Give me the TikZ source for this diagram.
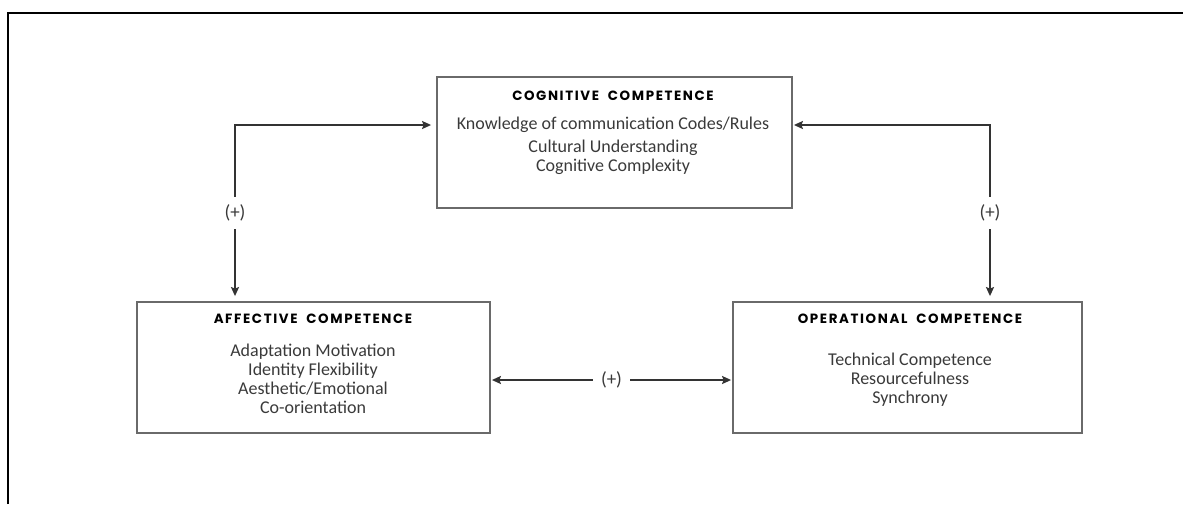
\documentclass[tikz,border=0pt]{standalone}
\usepackage{fontspec}
\setmainfont{Carlito}
\newfontfamily\ttlfont{Poppins}[LetterSpace=12]
\usetikzlibrary{arrows.meta}
\definecolor{boxgray}{HTML}{6A6A6A}
\definecolor{linegray}{HTML}{333333}
\definecolor{textgray}{HTML}{3A3A3A}
\begin{document}
\begin{tikzpicture}[x=1pt,y=-1pt,
  box/.style={draw=boxgray,line width=1.8pt,inner sep=0pt},
  ttl/.style={font=\ttlfont\bfseries\fontsize{13.4}{14}\selectfont,text=black,inner sep=0pt,anchor=center},
  body/.style={font=\fontsize{18}{18.8}\selectfont,text=textgray,align=center,inner sep=0pt,anchor=north},
  conn/.style={draw=linegray,line width=1.8pt,{Stealth[length=9pt,width=8pt,inset=1.5pt]}-{Stealth[length=9pt,width=8pt,inset=1.5pt]}},
  lbl/.style={fill=white,inner xsep=8pt,inner ysep=8pt,font=\fontsize{19}{20}\selectfont,text=textgray}]
\useasboundingbox (0,0) rectangle (1183,504);
\draw[black,line width=2.2pt] (8,504) -- (8,13) -- (1183,13);
% boxes
\node[box,minimum width=355pt,minimum height=131pt] (cog) at (614.5,142.5) {};
\node[box,minimum width=353pt,minimum height=131pt] (aff) at (313.5,367.5) {};
\node[box,minimum width=349pt,minimum height=131pt] (op) at (907.5,367.5) {};
% texts
\node[ttl] (cogt) at (613,96) {COGNITIVE\ \ COMPETENCE};
\node[body] (cogb) at (613,117) {Knowledge of communication Codes/Rules\\[4pt]Cultural Understanding\\Cognitive Complexity};
\node[ttl] (afft) at (313,319) {AFFECTIVE\ \ COMPETENCE};
\node[body] (affb) at (313,344) {Adaptation Motivation\\Identity Flexibility\\Aesthetic/Emotional\\Co-orientation};
\node[ttl] (opt) at (910,319) {OPERATIONAL\ \ COMPETENCE};
\node[body] (opb) at (910,353) {Technical Competence\\Resourcefulness\\Synchrony};
% connectors
\coordinate (lc) at (235,125);
\coordinate (rc) at (990,125);
\draw[conn,shorten <=5pt,shorten >=5pt] (cog.west |- lc) -- (lc) -- node[lbl,pos=0.5] (pl) {(+)} (lc |- aff.north);
\draw[conn,shorten <=1pt,shorten >=5pt] (cog.east |- rc) -- (rc) -- node[lbl,pos=0.5] (pr) {(+)} (rc |- op.north);
\coordinate (bc) at (0,380);
\draw[conn,shorten <=1pt,shorten >=1pt] (aff.east |- bc) -- node[lbl,pos=0.5] (pb) {(+)} (op.west |- bc);
\end{tikzpicture}
\end{document}
